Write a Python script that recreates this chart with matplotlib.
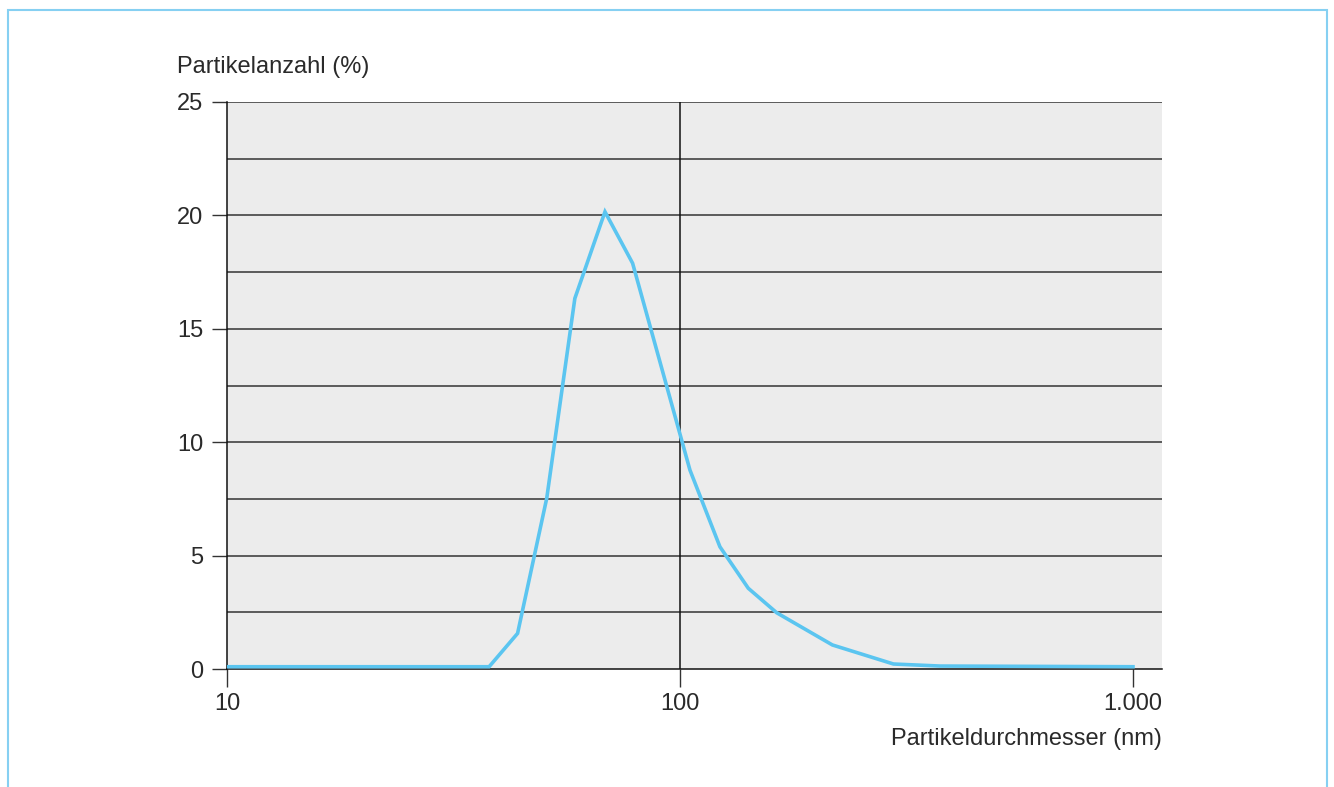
import matplotlib
matplotlib.use("Agg")
import matplotlib.pyplot as plt
from matplotlib.patches import Rectangle

plt.rcParams['font.family'] = ['Liberation Sans', 'DejaVu Sans']

# particle size distribution
diameter_nm = [10, 37.9, 43.8, 50.8, 58.6, 68.3, 78.6, 105.2, 122.5, 141.5,
               163.5, 217, 296, 375, 1000]
count_pct = [0.1, 0.1, 1.57, 7.53, 16.34, 20.16, 17.89, 8.77, 5.39, 3.56,
             2.48, 1.06, 0.22, 0.13, 0.1]

xticks = [10, 100, 1000]
xtick_labels = ['10', '100', '1.000']
yticks = [0, 5, 10, 15, 20, 25]

txt = '#2a2a2a'
line_col = '#5bc5f0'
fs = 17

fig = plt.figure(figsize=(13.34, 7.87), dpi=100)
ax = fig.add_axes([227/1334, 1 - 669/787, (1162 - 227)/1334, (669 - 102)/787])
ax.set_facecolor('#ececec')

# horizontal grid every 2.5, single vertical line at 100
for yv in [2.5 * i for i in range(1, 11)]:
    ax.axhline(yv, color='#333333', lw=1.1, zorder=1)
ax.axvline(100, color='#111111', lw=1.1, zorder=1)

ax.plot(diameter_nm, count_pct, color=line_col, lw=2.6, zorder=3,
        solid_joinstyle='miter')

ax.set_xscale('log')
ax.set_xlim(10, 1159)
ax.set_ylim(0, 25)
ax.set_xticks(xticks)
ax.set_xticklabels(xtick_labels)
ax.xaxis.set_minor_locator(matplotlib.ticker.NullLocator())
ax.set_yticks(yticks)

for s in ['top', 'right']:
    ax.spines[s].set_visible(False)
for s in ['left', 'bottom']:
    ax.spines[s].set_color('#111111')
    ax.spines[s].set_linewidth(1.1)

ax.tick_params(axis='y', length=11, width=1, color='#333333', pad=6,
               labelsize=fs, labelcolor=txt)
ax.tick_params(axis='x', length=13, width=1, color='#333333', pad=4,
               labelsize=fs, labelcolor=txt)

fig.text(177/1334, 1 - 67/787, 'Partikelanzahl (%)', ha='left', va='center',
         fontsize=fs, color=txt)
fig.text(1162/1334, 1 - 739/787, 'Partikeldurchmesser (nm)', ha='right',
         va='center', fontsize=fs, color=txt)

# light blue frame around the figure (bottom edge cut off)
fig.patches.append(Rectangle((8/1334, -0.05), (1327 - 8)/1334, 1.05 - 10/787,
                             transform=fig.transFigure, fill=False,
                             edgecolor='#86d0f2', lw=1.5))

fig.savefig('out.png', dpi=100)
